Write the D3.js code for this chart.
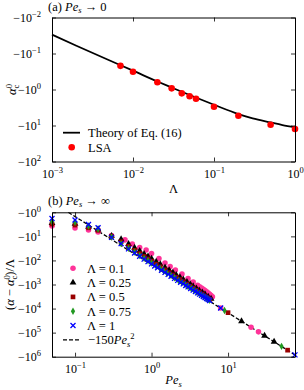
<!DOCTYPE html>
<html><head><meta charset="utf-8">
<script src="https://cdn.jsdelivr.net/npm/d3@7"></script>
<style>
body{margin:0;background:#fff}
svg{display:block}
text{font-family:"Liberation Serif","Times New Roman",serif;fill:#000}
</style>
</head><body>
<svg id="c" width="304" height="390"></svg>
<script>
// ---------- Panel (a) data ----------
const lambdaLSA = [0.007,0.01,0.02,0.03,0.04,0.05,0.06,0.1,0.2,0.5,1];
const alphaLSA  = [-0.22,-0.32,-0.63,-0.93,-1.28,-1.54,-1.8,-3.0,-5.35,-9.5,-12.5];
const lambdaTheory = [0.001,0.002,0.005,0.01,0.02,0.03,0.05,0.1,0.2,0.3,0.5,0.7,1];
const alphaTheory  = [-0.030,-0.061,-0.152,-0.30,-0.60,-0.88,-1.42,-2.65,-4.8,-6.3,-8.2,-9.7,-11.2];
const xTicksA = [0.001,0.01,0.1,1];
const yTicksA = [-0.01,-0.1,-1,-10,-100];

// ---------- Panel (b) data ----------
const pe01 = [0.05,0.1,0.15,0.2,0.3,0.45,0.56,0.7,0.85,1.0,1.25,1.5,1.75,2.05,2.5,3.0,3.5,4.0,4.25,4.5,4.75,5.0,5.25,5.5,5.75,6.0,6.25,8,20,25];
const val01 = [-3.7,-4.5,-5.4,-6.6,-9.2,-14,-21,-29,-37,-52,-83,-128,-179,-250,-366,-562,-787,-1080,-1230,-1390,-1570,-1780,-2010,-2270,-2560,-2900,-3250,-9400,-59500,-93000];
const pe025 = [0.05,0.1,0.15,0.2,0.3,0.4,0.5,0.6,0.7,0.8,0.9,1.0,1.15,1.3,1.5,1.7,1.9,2.1,2.35,2.6,2.9,3.2,3.5,3.85,4.2,4.6,5.0,5.5,6.0,15,30,40];
const val025 = [-2.8,-3.0,-4.0,-5.2,-9.5,-13.2,-20.6,-29.7,-40,-54,-68,-84,-113,-144,-196,-251,-319,-397,-497,-619,-782,-968,-1176,-1445,-1746,-2127,-2550,-3176,-3888,-33500,-134000,-238000];
const pe05 = [0.05,0.1,0.15,0.2,0.3,0.4,0.5,0.6,0.7,0.8,0.9,1.0,1.15,1.3,1.5,1.7,1.9,2.1,2.35,2.6,2.9,3.2,3.5,3.85,4.2,4.6,5.0,5.4,5.8,10,60];
const val05 = [-3.1,-3.4,-4.4,-5.6,-10,-16.8,-26,-38,-52,-68,-87,-108,-143,-185,-246,-321,-401,-496,-621,-771,-959,-1183,-1415,-1734,-2064,-2507,-3000,-3499,-4087,-14800,-535000];
const pe075 = [0.05,0.1,0.15,0.2,0.3,0.4,0.5,0.6,0.7,0.8,0.9,1.0,1.15,1.3,1.45,1.6,1.8,2.0,2.25,2.5,2.75,3.0,3.3,3.6,3.9,4.2,4.5,4.8,5.1,5.4,5.7,9,50];
const val075 = [-2.4,-2.6,-3.7,-4.9,-10.5,-20,-31,-45,-62,-82,-104,-129,-172,-221,-274,-338,-428,-528,-676,-834,-1009,-1215,-1470,-1750,-2053,-2381,-2764,-3145,-3550,-3980,-4483,-12000,-372000];
const pe1 = [0.05,0.1,0.15,0.2,0.3,0.4,0.5,0.6,0.7,0.8,0.9,1.0,1.1,1.2,1.35,1.5,1.65,1.8,2.0,2.2,2.4,2.6,2.8,3.0,3.25,3.5,3.75,4.0,4.25,4.5,4.75,5.0,5.25,5.5,5.75,8,75];
const val1 = [-1.8,-2.1,-3.2,-4.4,-11,-20,-33,-49,-67,-88,-112,-139,-169,-201,-254,-314,-380,-452,-558,-675,-804,-943,-1094,-1256,-1473,-1709,-1962,-2232,-2520,-2825,-3147,-3488,-3845,-4220,-4612,-9500,-840000];
const seriesLabels = ["Λ = 0.1","Λ = 0.25","Λ = 0.5","Λ = 0.75","Λ = 1"];
const fitCoef = -150;
const fitPe = [Math.sqrt(1/150), 75];
const xTicksB = [0.1,1,10];
const yTicksB = [-1,-10,-100,-1e3,-1e4,-1e5,-1e6];

const svg = d3.select("#c");

function supLabel(sel, base, exp, anchor){
  sel.attr("text-anchor", anchor);
  sel.append("tspan").text(base);
  sel.append("tspan").attr("dy", -5).attr("font-size", 8.5).text(exp < 0 ? "\u2212" + (-exp) : String(exp));
}

function frame(xs, ys, xt, yt){
  const [x0,x1] = xs.range(), [y0,y1] = ys.range();
  const g = svg.append("g");
  const bottom = g.append("g").attr("transform",`translate(0,${y1})`)
    .call(d3.axisBottom(xs).tickValues(xt).tickSize(-4).tickSizeOuter(0).tickFormat(""));
  g.append("g").attr("transform",`translate(0,${y0})`)
    .call(d3.axisTop(xs).tickValues(xt).tickSize(-4).tickSizeOuter(0).tickFormat(""));
  const left = g.append("g").attr("transform",`translate(${x0},0)`)
    .call(d3.axisLeft(ys).tickValues(yt).tickSize(-4).tickSizeOuter(0).tickFormat(""));
  g.append("g").attr("transform",`translate(${x1},0)`)
    .call(d3.axisRight(ys).tickValues(yt).tickSize(-4).tickSizeOuter(0).tickFormat(""));
  g.selectAll("path.domain").attr("stroke","#000").attr("stroke-width",1);
  g.selectAll(".tick line").attr("stroke","#000").attr("stroke-width",0.8);
  bottom.selectAll(".tick").each(function(d){
    const t = d3.select(this).append("text").attr("y",16.5).attr("font-size",12);
    supLabel(t, "10", Math.round(Math.log10(d)), "middle");
  });
  left.selectAll(".tick").each(function(d){
    const t = d3.select(this).append("text").attr("x",-11).attr("y",4).attr("font-size",12);
    supLabel(t, "\u221210", Math.round(Math.log10(-d)), "end");
  });
  g.selectAll("text").attr("fill","#000");
}

// ---------- Panel (a) ----------
const xA = d3.scaleLog().domain([0.001,1]).range([52,295]);
const yA = d3.scaleLog().domain([-0.01,-100]).range([17.5,161.5]);

svg.append("path")
  .datum(lambdaTheory.map((l,i)=>[l,alphaTheory[i]]))
  .attr("fill","none").attr("stroke","#000").attr("stroke-width",1.8)
  .attr("d", d3.line().x(d=>xA(d[0])).y(d=>yA(d[1])).curve(d3.curveMonotoneX));

svg.append("g").selectAll("circle").data(lambdaLSA.map((l,i)=>[l,alphaLSA[i]])).join("circle")
  .attr("cx",d=>xA(d[0])).attr("cy",d=>yA(d[1])).attr("r",3.3).attr("fill","#ff0000");

frame(xA, yA, xTicksA, yTicksA);

// legend a
svg.append("line").attr("x1",63).attr("x2",80).attr("y1",132.7).attr("y2",132.7).attr("stroke","#000").attr("stroke-width",1.8);
svg.append("text").attr("x",88).attr("y",137).attr("font-size",12.5).text("Theory of Eq. (16)");
svg.append("circle").attr("cx",71.7).attr("cy",147.3).attr("r",3.3).attr("fill","#ff0000");
svg.append("text").attr("x",88).attr("y",151.6).attr("font-size",12.5).text("LSA");

// titles and labels a
const ta = svg.append("text").attr("x",48).attr("y",10.5).attr("font-size",12.5);
ta.append("tspan").text("(a) ");
ta.append("tspan").attr("font-style","italic").text("Pe");
ta.append("tspan").attr("font-style","italic").attr("font-size",8.5).attr("dy",2.5).text("s");
ta.append("tspan").attr("dy",-2.5).text(" \u2192 0");

svg.append("text").attr("x",173.5).attr("y",193).attr("text-anchor","middle").attr("font-size",12.5).text("Λ");
const yla = svg.append("text").attr("transform","translate(16,89.5) rotate(-90)").attr("text-anchor","middle").attr("font-size",12.5);
yla.append("tspan").attr("font-style","italic").text("α");
yla.append("tspan").attr("font-size",8.5).attr("dy",-4.5).text("0");
yla.append("tspan").attr("font-size",8.5).attr("dx",-4.3).attr("dy",7.5).text("c");

// ---------- Panel (b) ----------
const xB = d3.scaleLog().domain([0.05,75]).range([52,295]);
const yB = d3.scaleLog().domain([-1,-1e6]).range([212.3,356.7]);

svg.append("defs").append("clipPath").attr("id","clipB")
  .append("rect").attr("x",52).attr("y",212.3).attr("width",243).attr("height",144.4);

svg.append("path")
  .datum(fitPe.map(p=>[p, fitCoef*p*p]))
  .attr("clip-path","url(#clipB)")
  .attr("fill","none").attr("stroke","#000").attr("stroke-width",1.3).attr("stroke-dasharray","4,2")
  .attr("d", d3.line().x(d=>xB(d[0])).y(d=>yB(d[1])));

const seriesB = [
  {pe:pe01, v:val01, color:"#ff3399", type:"circle"},
  {pe:pe025, v:val025, color:"#000000", type:"triangle"},
  {pe:pe05, v:val05, color:"#990000", type:"square"},
  {pe:pe075, v:val075, color:"#229922", type:"diamond"},
  {pe:pe1, v:val1, color:"#0000ff", type:"x"}
];

function marker(g, type, color){
  if(type==="x"){
    g.append("path").attr("d","M-2.5,-2.5L2.5,2.5M-2.5,2.5L2.5,-2.5").attr("stroke",color).attr("stroke-width",1.3).attr("fill","none");
  } else {
    const sym = {circle:[d3.symbolCircle,24], triangle:[d3.symbolTriangle,20], square:[d3.symbolSquare,22], diamond:[d3.symbolDiamond,16]}[type];
    g.append("path").attr("d", d3.symbol().type(sym[0]).size(sym[1])()).attr("fill",color);
  }
}

seriesB.forEach(s=>{
  const g = svg.append("g");
  s.pe.forEach((p,i)=>{
    const m = g.append("g").attr("transform",`translate(${xB(p)},${yB(s.v[i])})`);
    marker(m, s.type, s.color);
  });
});

frame(xB, yB, xTicksB, yTicksB);

// legend b
const legY = [268.3,282.6,296.9,311.2,325.5];
seriesB.forEach((s,i)=>{
  const m = svg.append("g").attr("transform",`translate(73,${legY[i]})`);
  marker(m, s.type, s.color);
  svg.append("text").attr("x",87).attr("y",legY[i]+4.3).attr("font-size",12.5).text(seriesLabels[i]);
});
svg.append("line").attr("x1",63).attr("x2",80).attr("y1",339.8).attr("y2",339.8).attr("stroke","#000").attr("stroke-width",1.3).attr("stroke-dasharray","4,2");
const lf = svg.append("text").attr("x",88).attr("y",344.1).attr("font-size",12.5);
lf.append("tspan").text("\u2212150");
lf.append("tspan").attr("font-style","italic").text("Pe");
lf.append("tspan").attr("font-style","italic").attr("font-size",8.5).attr("dy",2.5).text("s");
lf.append("tspan").attr("font-size",8.5).attr("dy",-8).text("2");

const tb = svg.append("text").attr("x",48).attr("y",204.5).attr("font-size",12.5);
tb.append("tspan").text("(b) ");
tb.append("tspan").attr("font-style","italic").text("Pe");
tb.append("tspan").attr("font-style","italic").attr("font-size",8.5).attr("dy",2.5).text("s");
tb.append("tspan").attr("dy",-2.5).text(" \u2192 \u221e");

const xlb = svg.append("text").attr("x",173.5).attr("y",384).attr("text-anchor","middle").attr("font-size",12.5);
xlb.append("tspan").attr("font-style","italic").text("Pe");
xlb.append("tspan").attr("font-style","italic").attr("font-size",8.5).attr("dy",2.5).text("s");

const ylb = svg.append("text").attr("transform","translate(14,284.5) rotate(-90)").attr("text-anchor","middle").attr("font-size",12.5);
ylb.append("tspan").text("(");
ylb.append("tspan").attr("font-style","italic").text("α");
ylb.append("tspan").text(" \u2212 ");
ylb.append("tspan").attr("font-style","italic").text("α");
ylb.append("tspan").attr("font-size",8.5).attr("dy",-4.5).text("0");
ylb.append("tspan").attr("font-size",8.5).attr("dx",-4.3).attr("dy",7.5).text("c");
ylb.append("tspan").attr("dy",-3).text(")/Λ");
</script>
</body></html>
